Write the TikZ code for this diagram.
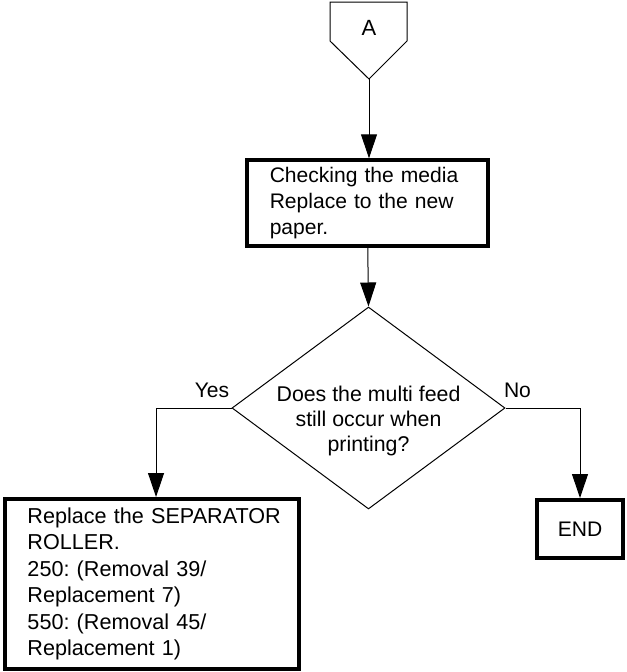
\documentclass[tikz,border=0pt]{standalone}
\usepackage{fontspec}
\setmainfont{Liberation Sans}
\usetikzlibrary{shapes.geometric,arrows.meta}
\frenchspacing
\hyphenpenalty=10000
\exhyphenpenalty=10000
\hbadness=10000
\hfuzz=20pt
\begin{document}
\begin{tikzpicture}[x=0.75pt,y=-0.75pt,
  every node/.style={font=\fontsize{15.8}{19.5}\selectfont},
  thinline/.style={line width=0.75pt},
  conn/.style={thinline,-{Triangle[width=12pt,length=18pt]}},
  thickbox/.style={draw,rectangle,line width=3pt,inner ysep=0pt},
  lbl/.style={anchor=base,inner sep=0pt}]
\useasboundingbox (0,0) rectangle (626,672);
% off-page connector A
\draw[thinline] (330,2) -- (407,2) -- (407,41) -- (369,79) -- (330,41) -- cycle;
\coordinate (Atip) at (369,79);
\node[lbl,font=\fontsize{16.5}{19.5}\selectfont] (A) at (369,35) {A};
% box 1
\node[thickbox,minimum width=180.4pt,minimum height=64.1pt,
      text width=147pt,inner xsep=16.5pt,align=left] (box1) at (367.75,203)
  {Checking the media\\Replace to the new\\paper.};
% decision
\node[diamond,draw,thinline,minimum width=204.75pt,minimum height=151.5pt,inner sep=0pt] (dia) at (368.5,408) {};
\node[align=center,font=\fontsize{16}{19}\selectfont] (diatext) at (368.5,421)
  {Does the multi feed\\still occur when\\printing?};
\node[lbl] (yes) at (212,397) {Yes};
\node[lbl] (no) at (517.5,397) {No};
% box 2
\node[thickbox,minimum width=220.5pt,minimum height=127.5pt,
      text width=186pt,inner xsep=17.25pt,align=left,
      font=\fontsize{16.2}{19.9}\selectfont] (box2) at (151.5,584)
  {Replace~the~SEPARATOR\\ROLLER.\\250: (Removal 39/\\Replacement 7)\\550: (Removal 45/\\Replacement 1)};
% END
\node[thickbox,minimum width=64.5pt,minimum height=43.5pt] (end) at (580,529) {END};
% connectors
\draw[conn] (Atip) -- (box1.north -| Atip);
\draw[conn] (box1.south) -- (dia.north);
\draw[conn] (dia.west) -| ([xshift=3.4pt]box2.north);
\draw[conn] (dia.east) -| (end.north);
\end{tikzpicture}
\end{document}
